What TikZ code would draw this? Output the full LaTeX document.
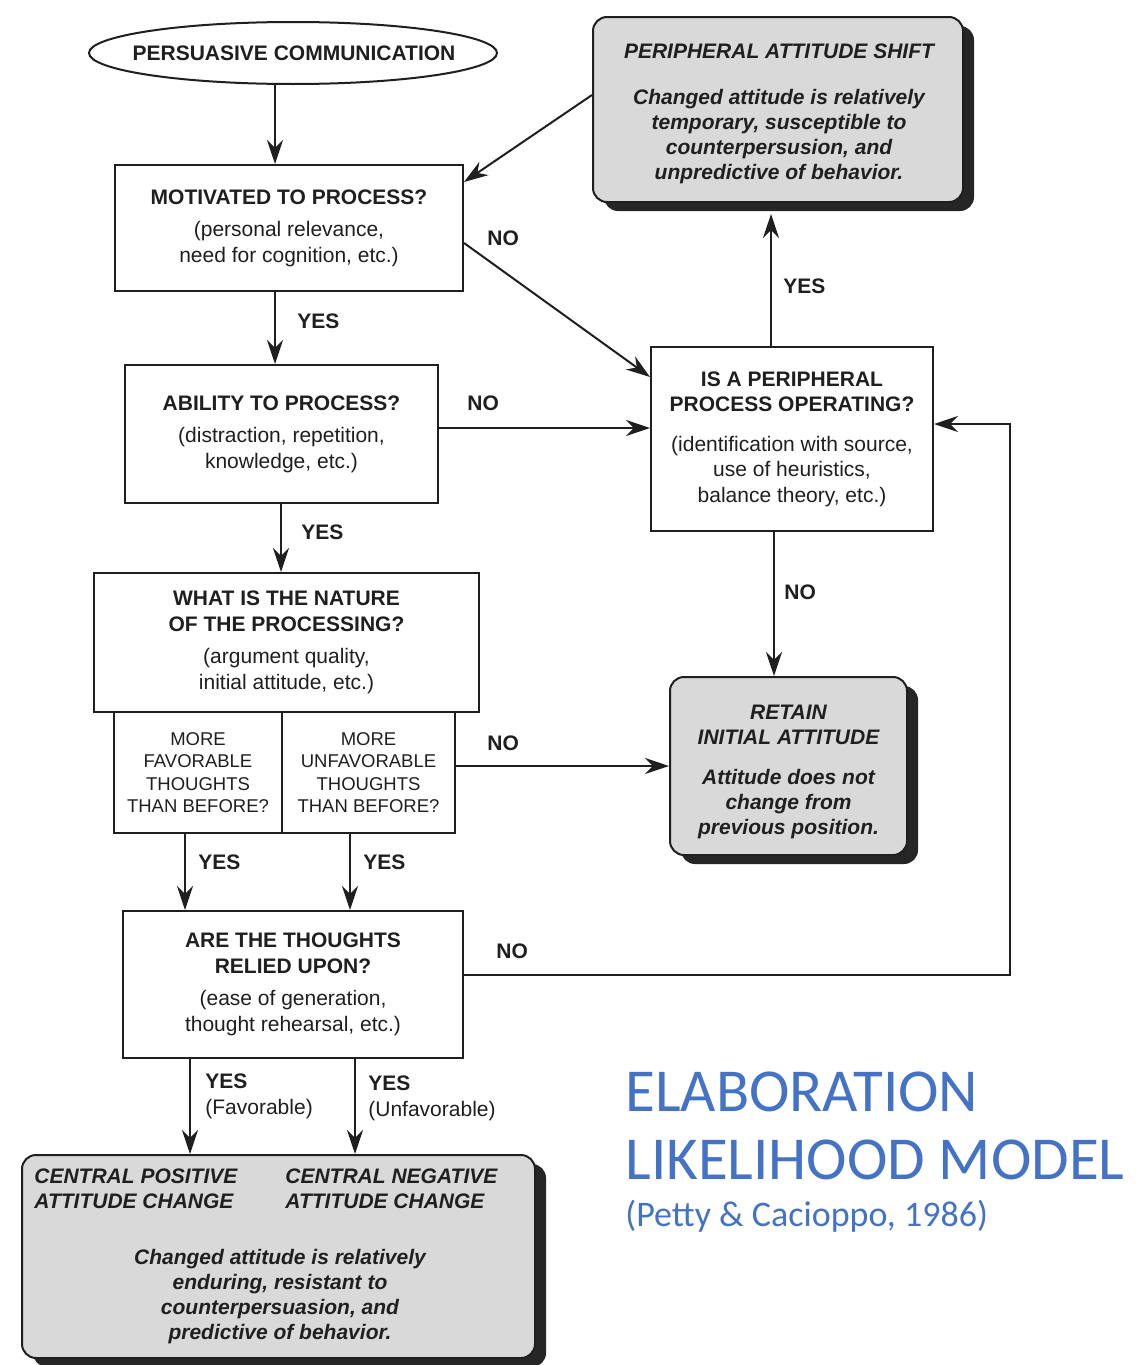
\documentclass[tikz,border=0pt]{standalone}
\usepackage{fontspec}
\setmainfont{Liberation Sans}
\newfontfamily\titlefont{Carlito}
\usetikzlibrary{arrows.meta,shadows,shapes.geometric,calc}
\definecolor{ink}{HTML}{1F1F1F}
\definecolor{panel}{HTML}{D9D9D9}
\definecolor{shade}{HTML}{262626}
\definecolor{elmblue}{HTML}{4472C4}
\begin{document}
\begin{tikzpicture}[x=0.5pt,y=-0.5pt,
  every node/.style={text=ink},
  qbox/.style={draw=ink, line width=1pt, fill=white, align=center, inner sep=0pt,
    font=\fontsize{10.5}{12.75}\selectfont},
  smallq/.style={qbox, font=\fontsize{9.25}{11.25}\selectfont},
  outcome/.style={draw=ink, line width=1pt, fill=panel, rounded corners=7pt,
    inner sep=0pt,
    general shadow={fill=shade, shadow xshift=5.5pt, shadow yshift=-4.5pt}},
  outtext/.style={align=center, inner sep=0pt,
    font=\fontsize{10.5}{12.5}\selectfont\bfseries\itshape},
  lbl/.style={font=\fontsize{10.5}{12.75}\selectfont\bfseries, anchor=west, inner sep=0pt},
  arr/.style={draw=ink, line width=1pt, -{Stealth[length=12pt,width=8pt]}},
  ]
% canvas
\fill[white] (0,0) rectangle (1147,1365);
\useasboundingbox (0,0) rectangle (1147,1365);

% vertical guide positions for the connectors
\coordinate (x275) at (275,0);
\coordinate (x281) at (281,0);
\coordinate (x185) at (185,0);
\coordinate (x350) at (350,0);
\coordinate (x190) at (190,0);
\coordinate (x355) at (355,0);
\coordinate (x771) at (771,0);
\coordinate (x774) at (774,0);
\coordinate (x1010) at (1010,0);

% start
\node[draw=ink, line width=1pt, ellipse, minimum width=204pt, minimum height=31pt,
  inner sep=0pt] (pc) at (293,53) {};
\node[inner sep=0pt, font=\fontsize{10.5}{12.75}\selectfont\bfseries] (pctext) at (294,53)
  {PERSUASIVE COMMUNICATION};

% decision boxes
\node[qbox, minimum width=174pt, minimum height=63pt] (mot) at (289,228)
  {\textbf{MOTIVATED TO PROCESS?}\\[3.5pt](personal relevance,\\need for cognition, etc.)};
\node[qbox, minimum width=156.5pt, minimum height=69pt] (abil) at (281.5,434)
  {\textbf{ABILITY TO PROCESS?}\\[3.5pt](distraction, repetition,\\knowledge, etc.)};
\node[qbox, minimum width=192.5pt, minimum height=69.5pt] (nat) at (286.5,642.5)
  {\textbf{WHAT IS THE NATURE}\\\textbf{OF THE PROCESSING?}\\[3.5pt](argument quality,\\initial attitude, etc.)};
\node[smallq, minimum width=84pt, minimum height=60.5pt] (fav) at (198,772.5)
  {MORE\\FAVORABLE\\THOUGHTS\\THAN BEFORE?};
\node[smallq, minimum width=86.5pt, minimum height=60.5pt] (unfav) at (368.5,772.5)
  {MORE\\UNFAVORABLE\\THOUGHTS\\THAN BEFORE?};
\node[qbox, minimum width=170pt, minimum height=73.5pt] (rel) at (293,984.5)
  {\textbf{ARE THE THOUGHTS}\\\textbf{RELIED UPON?}\\[3.5pt](ease of generation,\\thought rehearsal, etc.)};
\node[qbox, minimum width=141pt, minimum height=92pt] (proc) at (792,439)
  {\textbf{IS A PERIPHERAL}\\\textbf{PROCESS OPERATING?}\\[7pt](identification with source,\\use of heuristics,\\balance theory, etc.)};

% outcome panels
\node[outcome, minimum width=185pt, minimum height=92.5pt] (shift) at (778,109.5) {};
\node[outtext] (shifttext) at (779,113.5)
  {PERIPHERAL ATTITUDE SHIFT\\[10.5pt]Changed attitude is relatively\\temporary, susceptible to\\counterpersusion, and\\unpredictive of behavior.};
\node[outcome, minimum width=118.5pt, minimum height=89pt] (retain) at (788.5,766) {};
\node[outtext] (retaintext) at (788.5,772)
  {RETAIN\\INITIAL ATTITUDE\\[7.5pt]Attitude does not\\change from\\previous position.};
\node[outcome, minimum width=256.5pt, minimum height=101.5pt] (central) at (278.5,1256.5) {};
\node[outtext, align=left, anchor=north west] (cpos) at (34,1168)
  {CENTRAL POSITIVE\\ATTITUDE CHANGE};
\node[outtext, align=left, anchor=north west] (cneg) at (285,1168)
  {CENTRAL NEGATIVE\\ATTITUDE CHANGE};
\node[outtext] (cbody) at (280,1297)
  {Changed attitude is relatively\\enduring, resistant to\\counterpersuasion, and\\predictive of behavior.};

% main path
\draw[arr] (pc.south -| x275) -- (mot.north -| x275);
\draw[arr] (mot.south -| x275) -- (abil.north -| x275);
\draw[arr] (abil.south -| x281) -- (nat.north -| x281);
\draw[arr] (fav.south -| x185) -- (rel.north -| x185);
\draw[arr] (unfav.south -| x350) -- (rel.north -| x350);
\draw[arr] (rel.south -| x190) -- (central.north -| x190);
\draw[arr] (rel.south -| x355) -- (central.north -| x355);

% peripheral route
\draw[arr] ($(mot.east)+(0,15)$) -- ($(proc.north west)+(0,31)$);
\draw[arr] ($(shift.west)+(0,-14.5)$) -- ($(mot.north east)+(0,18)$);
\coordinate (abilout) at ($(abil.east)+(0,-6)$);
\draw[arr] (abilout) -- (abilout -| proc.west);
\draw[arr] (unfav.east |- retain.west) -- (retain.west);
\draw[arr] (proc.north -| x771) -- ($(shift.south -| x771)+(0,11)$);
\draw[arr] (proc.south -| x774) -- (retain.north -| x774);
\coordinate (relout) at ($(rel.east)+(0,-9.5)$);
\coordinate (procin) at ($(proc.east)+(0,-15)$);
\draw[arr] (relout) -| (x1010 |- procin) -- (procin);

% branch labels
\node[lbl] (l1) at (297,321) {YES};
\node[lbl] (l2) at (301,532) {YES};
\node[lbl] (l3) at (487,238) {NO};
\node[lbl] (l4) at (467,403) {NO};
\node[lbl] (l5) at (783,286) {YES};
\node[lbl] (l6) at (784,592) {NO};
\node[lbl] (l7) at (487,743) {NO};
\node[lbl] (l8) at (198,862) {YES};
\node[lbl] (l9) at (363,862) {YES};
\node[lbl] (l10) at (496,951) {NO};
\node[anchor=north west, align=left, inner sep=0pt,
  font=\fontsize{10.5}{13}\selectfont] (l11) at (205,1073)
  {\textbf{YES}\\(Favorable)};
\node[anchor=north west, align=left, inner sep=0pt,
  font=\fontsize{10.5}{13}\selectfont] (l12) at (368,1075)
  {\textbf{YES}\\(Unfavorable)};

% title
\node[anchor=base west, inner sep=0pt, text=elmblue,
  font=\titlefont\fontsize{30.5}{34}\selectfont] (t1) at (625,1111) {ELABORATION};
\node[anchor=base west, inner sep=0pt, text=elmblue,
  font=\titlefont\fontsize{30.5}{34}\selectfont] (t2) at (625,1179) {LIKELIHOOD MODEL};
\node[anchor=base west, inner sep=0pt, text=elmblue,
  font=\titlefont\fontsize{18}{21}\selectfont] (t3) at (625,1226) {(Petty \& Cacioppo, 1986)};
\end{tikzpicture}
\end{document}
